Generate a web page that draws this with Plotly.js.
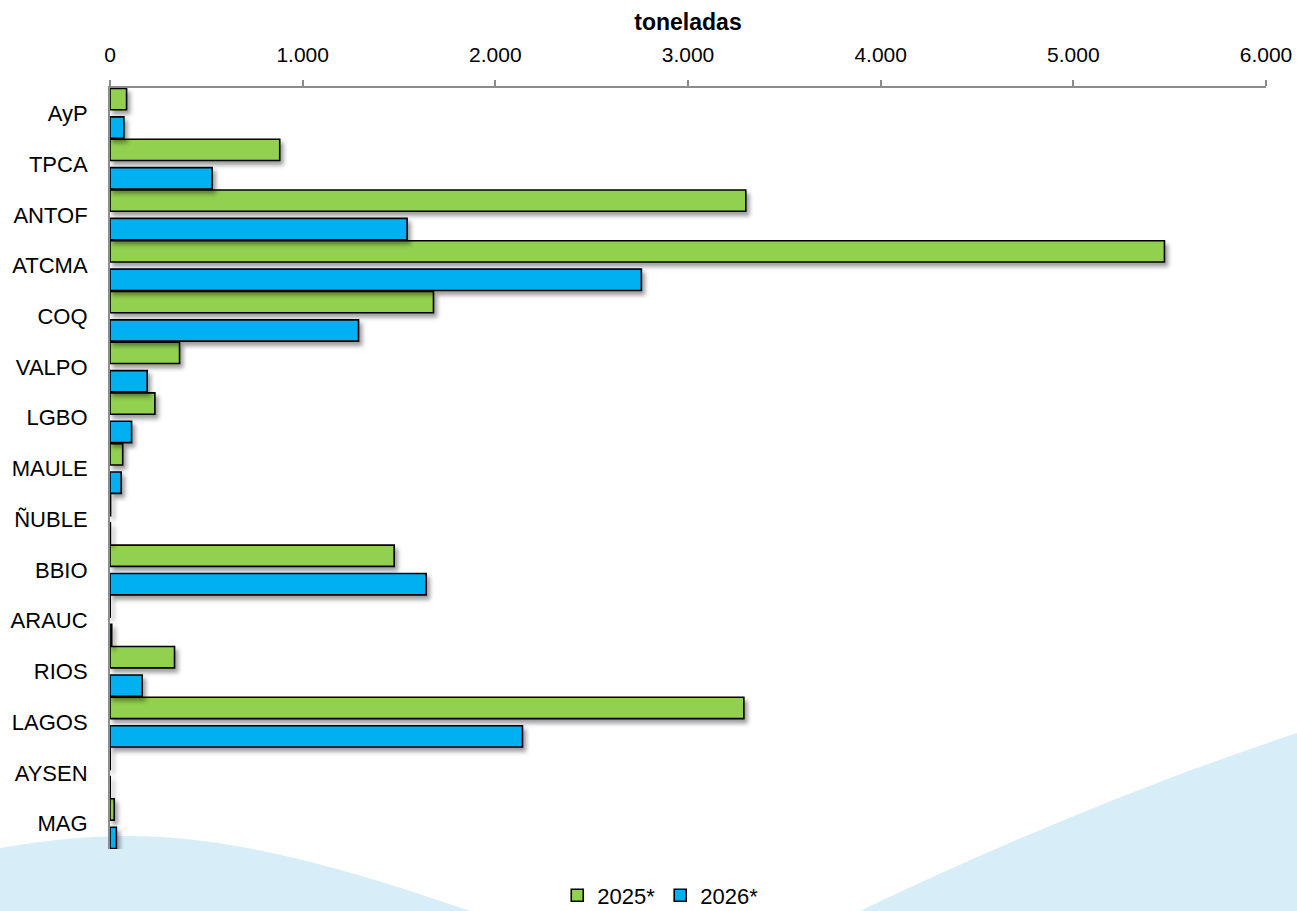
<!DOCTYPE html>
<html>
<head>
<meta charset="utf-8">
<script src="https://cdn.plot.ly/plotly-3.0.1.min.js"></script>
<style>
  html, body { margin: 0; padding: 0; background: #ffffff; }
  #chart { width: 1297px; height: 911px; }
  .barlayer .point path { filter: drop-shadow(3px 4px 2px rgba(0,0,0,0.38)); }
</style>
</head>
<body>
<div id="chart"></div>
<script>
// ---- data ----
const regions = ["AyP", "TPCA", "ANTOF", "ATCMA", "COQ", "VALPO", "LGBO", "MAULE", "ÑUBLE", "BBIO", "ARAUC", "RIOS", "LAGOS", "AYSEN", "MAG"];
const values2025 = [86, 881, 3300, 5473, 1679, 361, 233, 66, 3, 1475, 1, 335, 3290, 1, 22];
const values2026 = [72, 530, 1542, 2758, 1290, 193, 112, 58, 2, 1641, 9, 167, 2141, 1, 33];
const seriesNames = ["2025*", "2026*"];
const xTicks = [0, 1000, 2000, 3000, 4000, 5000, 6000];

// ---- layout helpers (plot area in pixels) ----
const L = 110, R = 31, T = 88, Bm = 62, FW = 1297, FH = 911;
const PW = FW - L - R, PH = FH - T - Bm;
function P(x, y) { return ((x - L) / PW).toFixed(4) + "," + ((FH - Bm - y) / PH).toFixed(4); }

const leftWave = "M" + P(0, 911) + " L" + P(0, 848) +
  " C" + P(60, 838) + " " + P(110, 834) + " " + P(160, 837) +
  " C" + P(260, 842) + " " + P(380, 880) + " " + P(470, 911) + " Z";
const rightWave = "M" + P(860, 911) +
  " C" + P(950, 868) + " " + P(1110, 795) + " " + P(1297, 733) +
  " L" + P(1297, 911) + " Z";

const font = "Liberation Sans, Arial, sans-serif";

const traces = [
  {
    type: "bar", orientation: "h", name: seriesNames[0],
    y: regions, x: values2025,
    offset: -0.49, width: 0.42,
    marker: { color: "#92D050", line: { color: "#000000", width: 1.6 } },
    hoverinfo: "x+y"
  },
  {
    type: "bar", orientation: "h", name: seriesNames[1],
    y: regions, x: values2026,
    offset: 0.07, width: 0.42,
    marker: { color: "#00B0F0", line: { color: "#000000", width: 1.6 } },
    hoverinfo: "x+y"
  }
];

const layout = {
  width: FW, height: FH,
  margin: { l: L, r: R, t: T, b: Bm, autoexpand: false },
  paper_bgcolor: "#ffffff",
  plot_bgcolor: "rgba(0,0,0,0)",
  separators: ",.",
  barmode: "overlay",
  font: { family: font, color: "#000000", size: 21 },
  showlegend: true,
  legend: {
    orientation: "h", x: 0.476, xanchor: "center",
    y: -0.061, yanchor: "middle",
    font: { family: font, size: 22, color: "#000000" },
    bgcolor: "rgba(0,0,0,0)", itemwidth: 30, tracegroupgap: 0
  },
  xaxis: {
    side: "top", range: [0, 6000], tickvals: xTicks, tickformat: ",d",
    showline: true, linecolor: "#8c8c8c", linewidth: 2,
    ticks: "outside", ticklen: 6, tickwidth: 2, tickcolor: "#8c8c8c",
    showgrid: false, zeroline: false, automargin: false,
    ticklabelstandoff: 10,
    tickfont: { family: font, size: 21, color: "#000000" },
    title: { text: "<b>toneladas</b>", font: { family: font, size: 23, color: "#000000" }, standoff: 6 }
  },
  yaxis: {
    type: "category", autorange: "reversed",
    showline: true, linecolor: "#8c8c8c", linewidth: 2,
    ticks: "", showgrid: false, zeroline: false, automargin: false,
    ticklabelstandoff: 16,
    tickfont: { family: font, size: 22, color: "#000000" }
  },
  shapes: [
    { type: "path", xref: "paper", yref: "paper", path: leftWave, fillcolor: "#D7EEF9", line: { width: 0 }, layer: "below" },
    { type: "path", xref: "paper", yref: "paper", path: rightWave, fillcolor: "#D7EEF9", line: { width: 0 }, layer: "below" }
  ]
};

Plotly.newPlot("chart", traces, layout, { displayModeBar: false, responsive: false });
</script>
</body>
</html>
